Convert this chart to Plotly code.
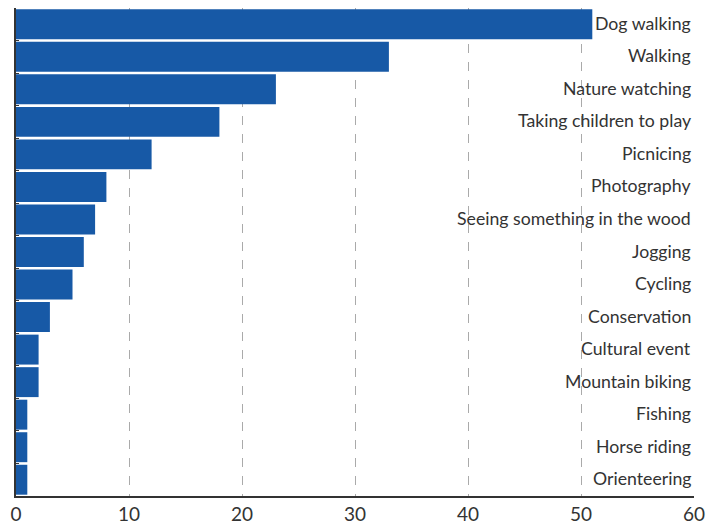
import plotly.graph_objects as go

categories = ["Dog walking", "Walking", "Nature watching", "Taking children to play",
              "Picnicing", "Photography", "Seeing something in the wood", "Jogging",
              "Cycling", "Conservation", "Cultural event", "Mountain biking",
              "Fishing", "Horse riding", "Orienteering"]
values = [51, 33, 23, 18, 12, 8, 7, 6, 5, 3, 2, 2, 1, 1, 1]
x_ticks = [0, 10, 20, 30, 40, 50, 60]

fig = go.Figure()
fig.add_trace(go.Bar(
    x=values, y=categories, orientation="h",
    marker=dict(color="#1759a6", line=dict(width=0)),
    hoverinfo="x+y",
))

for c in categories:
    fig.add_annotation(x=60, y=c, xref="x", yref="y", text=c, showarrow=False,
                       xanchor="right", xshift=-1, yshift=1,
                       font=dict(size=17.7, color="#333333", family="Lato"))

# page body has a small margin in the viewer, so size the figure to fit the window
fig.update_layout(
    width=711, height=518,
    margin=dict(l=8, r=25, t=0, b=30, autoexpand=False),
    paper_bgcolor="white", plot_bgcolor="white",
    bargap=0.08, showlegend=False,
    font=dict(family="Lato", color="#333333"),
)
fig.update_xaxes(
    range=[0, 60], tickvals=x_ticks, ticktext=[str(t) for t in x_ticks],
    showgrid=True, gridcolor="#aaaaaa", griddash="dash", gridwidth=1,
    showline=True, linecolor="#333333", linewidth=2,
    ticks="", tickfont=dict(size=19, color="#333333"), zeroline=False,
    automargin=False,
)
fig.update_yaxes(
    autorange="reversed", showticklabels=False, showgrid=False,
    showline=True, linecolor="#333333", linewidth=2,
    ticks="inside", ticklen=3, tickcolor="#333333", tickson="boundaries",
    automargin=False,
)

fig.write_html("out.html")
